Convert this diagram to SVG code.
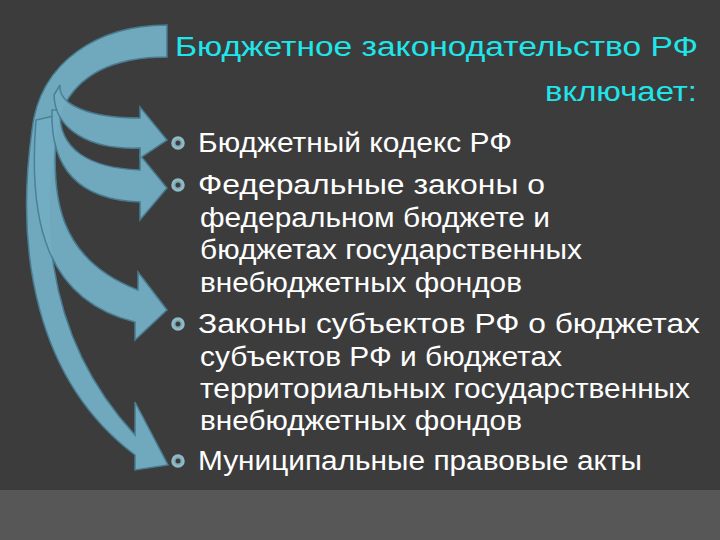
<svg xmlns="http://www.w3.org/2000/svg" width="720" height="540" viewBox="0 0 720 540">
<style>
.arr{fill:#73aec4;stroke:#4a7f94;stroke-width:1.5;opacity:0.95}
.t{font-family:"Liberation Sans",Arial,sans-serif;font-size:27px;fill:#ffffff}
.ttl{font-family:"Liberation Sans",Arial,sans-serif;font-size:27px;fill:#1fe6ea}
.b{fill:#7fa9b6;stroke:#8fbac6;stroke-width:2.5}
.bi{fill:#3c3c3c}
</style>
<rect width="720" height="540" fill="#3c3c3c"/>
<rect y="490" width="720" height="50" fill="#575757"/>
<g id="connectors">
<path class="arr" d="M167,25 L167,57 C120,57 80,70 62,110 C40,200 38,330 135,435 L135,402 L168,465 L135,470 L135,455 C35,380 15,250 32,130 C40,60 100,25 167,25 Z"/>
<path class="arr" d="M58,115 C48,200 60,260 138,290 L138,272 L167,310 L135,340 L135,322 C45,300 28,220 36,120 Z"/>
<path class="arr" d="M60,110 C58,150 90,168 140,170 L140,155 L167,188 L140,220 L140,202 C80,200 50,170 52,110 Z"/>
<path class="arr" d="M60,85 C58,105 90,118 140,118 L140,107 L167,140 L140,158 L140,148 C90,150 55,130 54,95 Z"/>
</g>
<g id="title">
<text class="ttl" x="175" y="56" textLength="523" lengthAdjust="spacingAndGlyphs">Бюджетное законодательство  РФ</text>
<text class="ttl" x="545" y="101" textLength="152" lengthAdjust="spacingAndGlyphs">включает:</text>
</g>
<g id="item1"><circle class="b" cx="178" cy="143" r="5.5"/><circle class="bi" cx="178" cy="143" r="2.5"/><text class="t" x="198" y="152" textLength="314" lengthAdjust="spacingAndGlyphs">Бюджетный кодекс РФ</text></g>
<g id="item2"><circle class="b" cx="178" cy="185" r="5.5"/><circle class="bi" cx="178" cy="185" r="2.5"/>
<text class="t" x="198" y="194" textLength="347" lengthAdjust="spacingAndGlyphs">Федеральные законы о</text>
<text class="t" x="200" y="227" textLength="350" lengthAdjust="spacingAndGlyphs">федеральном бюджете и</text>
<text class="t" x="200" y="259" textLength="382" lengthAdjust="spacingAndGlyphs">бюджетах государственных</text>
<text class="t" x="200" y="292" textLength="322" lengthAdjust="spacingAndGlyphs">внебюджетных фондов</text></g>
<g id="item3"><circle class="b" cx="178" cy="324" r="5.5"/><circle class="bi" cx="178" cy="324" r="2.5"/>
<text class="t" x="198" y="333" textLength="502" lengthAdjust="spacingAndGlyphs">Законы субъектов РФ о бюджетах</text>
<text class="t" x="200" y="366" textLength="362" lengthAdjust="spacingAndGlyphs">субъектов РФ и бюджетах</text>
<text class="t" x="200" y="398" textLength="490" lengthAdjust="spacingAndGlyphs">территориальных государственных</text>
<text class="t" x="200" y="430" textLength="322" lengthAdjust="spacingAndGlyphs">внебюджетных фондов</text></g>
<g id="item4"><circle class="b" cx="178" cy="461" r="5.5"/><circle class="bi" cx="178" cy="461" r="2.5"/><text class="t" x="198" y="470" textLength="444" lengthAdjust="spacingAndGlyphs">Муниципальные правовые акты</text></g>
</svg>
